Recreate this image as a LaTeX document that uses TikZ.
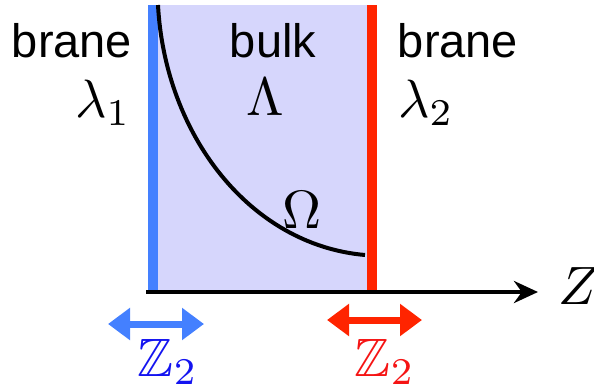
\documentclass[tikz,border=0pt]{standalone}
\usepackage{amssymb}
\usepackage{fontspec}
\newfontfamily\branefont{Liberation Sans}
\usetikzlibrary{arrows.meta}
\definecolor{bulkfill}{RGB}{214,214,252}
\definecolor{braneblue}{RGB}{68,128,255}
\definecolor{branered}{RGB}{255,36,0}
\definecolor{zblue}{RGB}{20,20,240}
\definecolor{zred}{RGB}{245,20,20}
\newcommand{\bigsym}[1]{\scalebox{5.4}{#1}}
\tikzset{
  word/.style={inner sep=0pt, anchor=base, font=\branefont\fontsize{47}{50}\selectfont},
  sym/.style={inner sep=0pt, anchor=base},
  branewall/.style={line width=10pt},
  flip/.style={line width=7pt, {Triangle[length=22pt,width=31pt]}-{Triangle[length=22pt,width=31pt]}},
}
\begin{document}
\begin{tikzpicture}[x=1pt,y=-1pt]
\useasboundingbox (0,0) rectangle (594,389);
% bulk
\fill[bulkfill] (148,5) rectangle (377,292);
% branes
\coordinate (b1top) at (153,5);
\coordinate (b1bot) at (153,290);
\coordinate (b2top) at (372,5);
\coordinate (b2bot) at (372,290);
\draw[branewall, braneblue] (b1top) -- (b1bot);
\draw[branewall, branered] (b2top) -- (b2bot);
% curve
\coordinate (cv0) at (158,5);
\coordinate (cv1) at (365,255);
\draw[line width=4pt] (cv0) .. controls (165,135) and (250,245) .. (cv1);
% axis
\coordinate (ax0) at (146,292);
\coordinate (ax1) at (538,292);
\draw[line width=4.5pt, -{Stealth[length=24pt,width=22pt]}] (ax0) -- (ax1);
\node[sym] (zlab) at (579,304) {\bigsym{$Z$}};
% labels
\node[word] (brane1) at (72,57) {brane};
\node[word] (bulk) at (273,57) {bulk};
\node[word] (brane2) at (458,57) {brane};
\node[sym] (lam1) at (103,117) {\bigsym{$\lambda_1$}};
\node[sym] (lam2) at (426,117) {\bigsym{$\lambda_2$}};
\node[sym] (Lam) at (265,115) {\bigsym{$\Lambda$}};
\node[sym] (Om) at (302,228) {\bigsym{$\Omega$}};
% Z2 arrows
\coordinate (fl1a) at (108,324);
\coordinate (fl1b) at (204,324);
\coordinate (fl2a) at (327,320);
\coordinate (fl2b) at (422,320);
\draw[flip, braneblue] (fl1a) -- (fl1b);
\draw[flip, branered] (fl2a) -- (fl2b);
\node[sym, text=zblue] (z2a) at (168,376) {\bigsym{$\mathbb{Z}_2$}};
\node[sym, text=zred] (z2b) at (385,376) {\bigsym{$\mathbb{Z}_2$}};
\end{tikzpicture}
\end{document}
